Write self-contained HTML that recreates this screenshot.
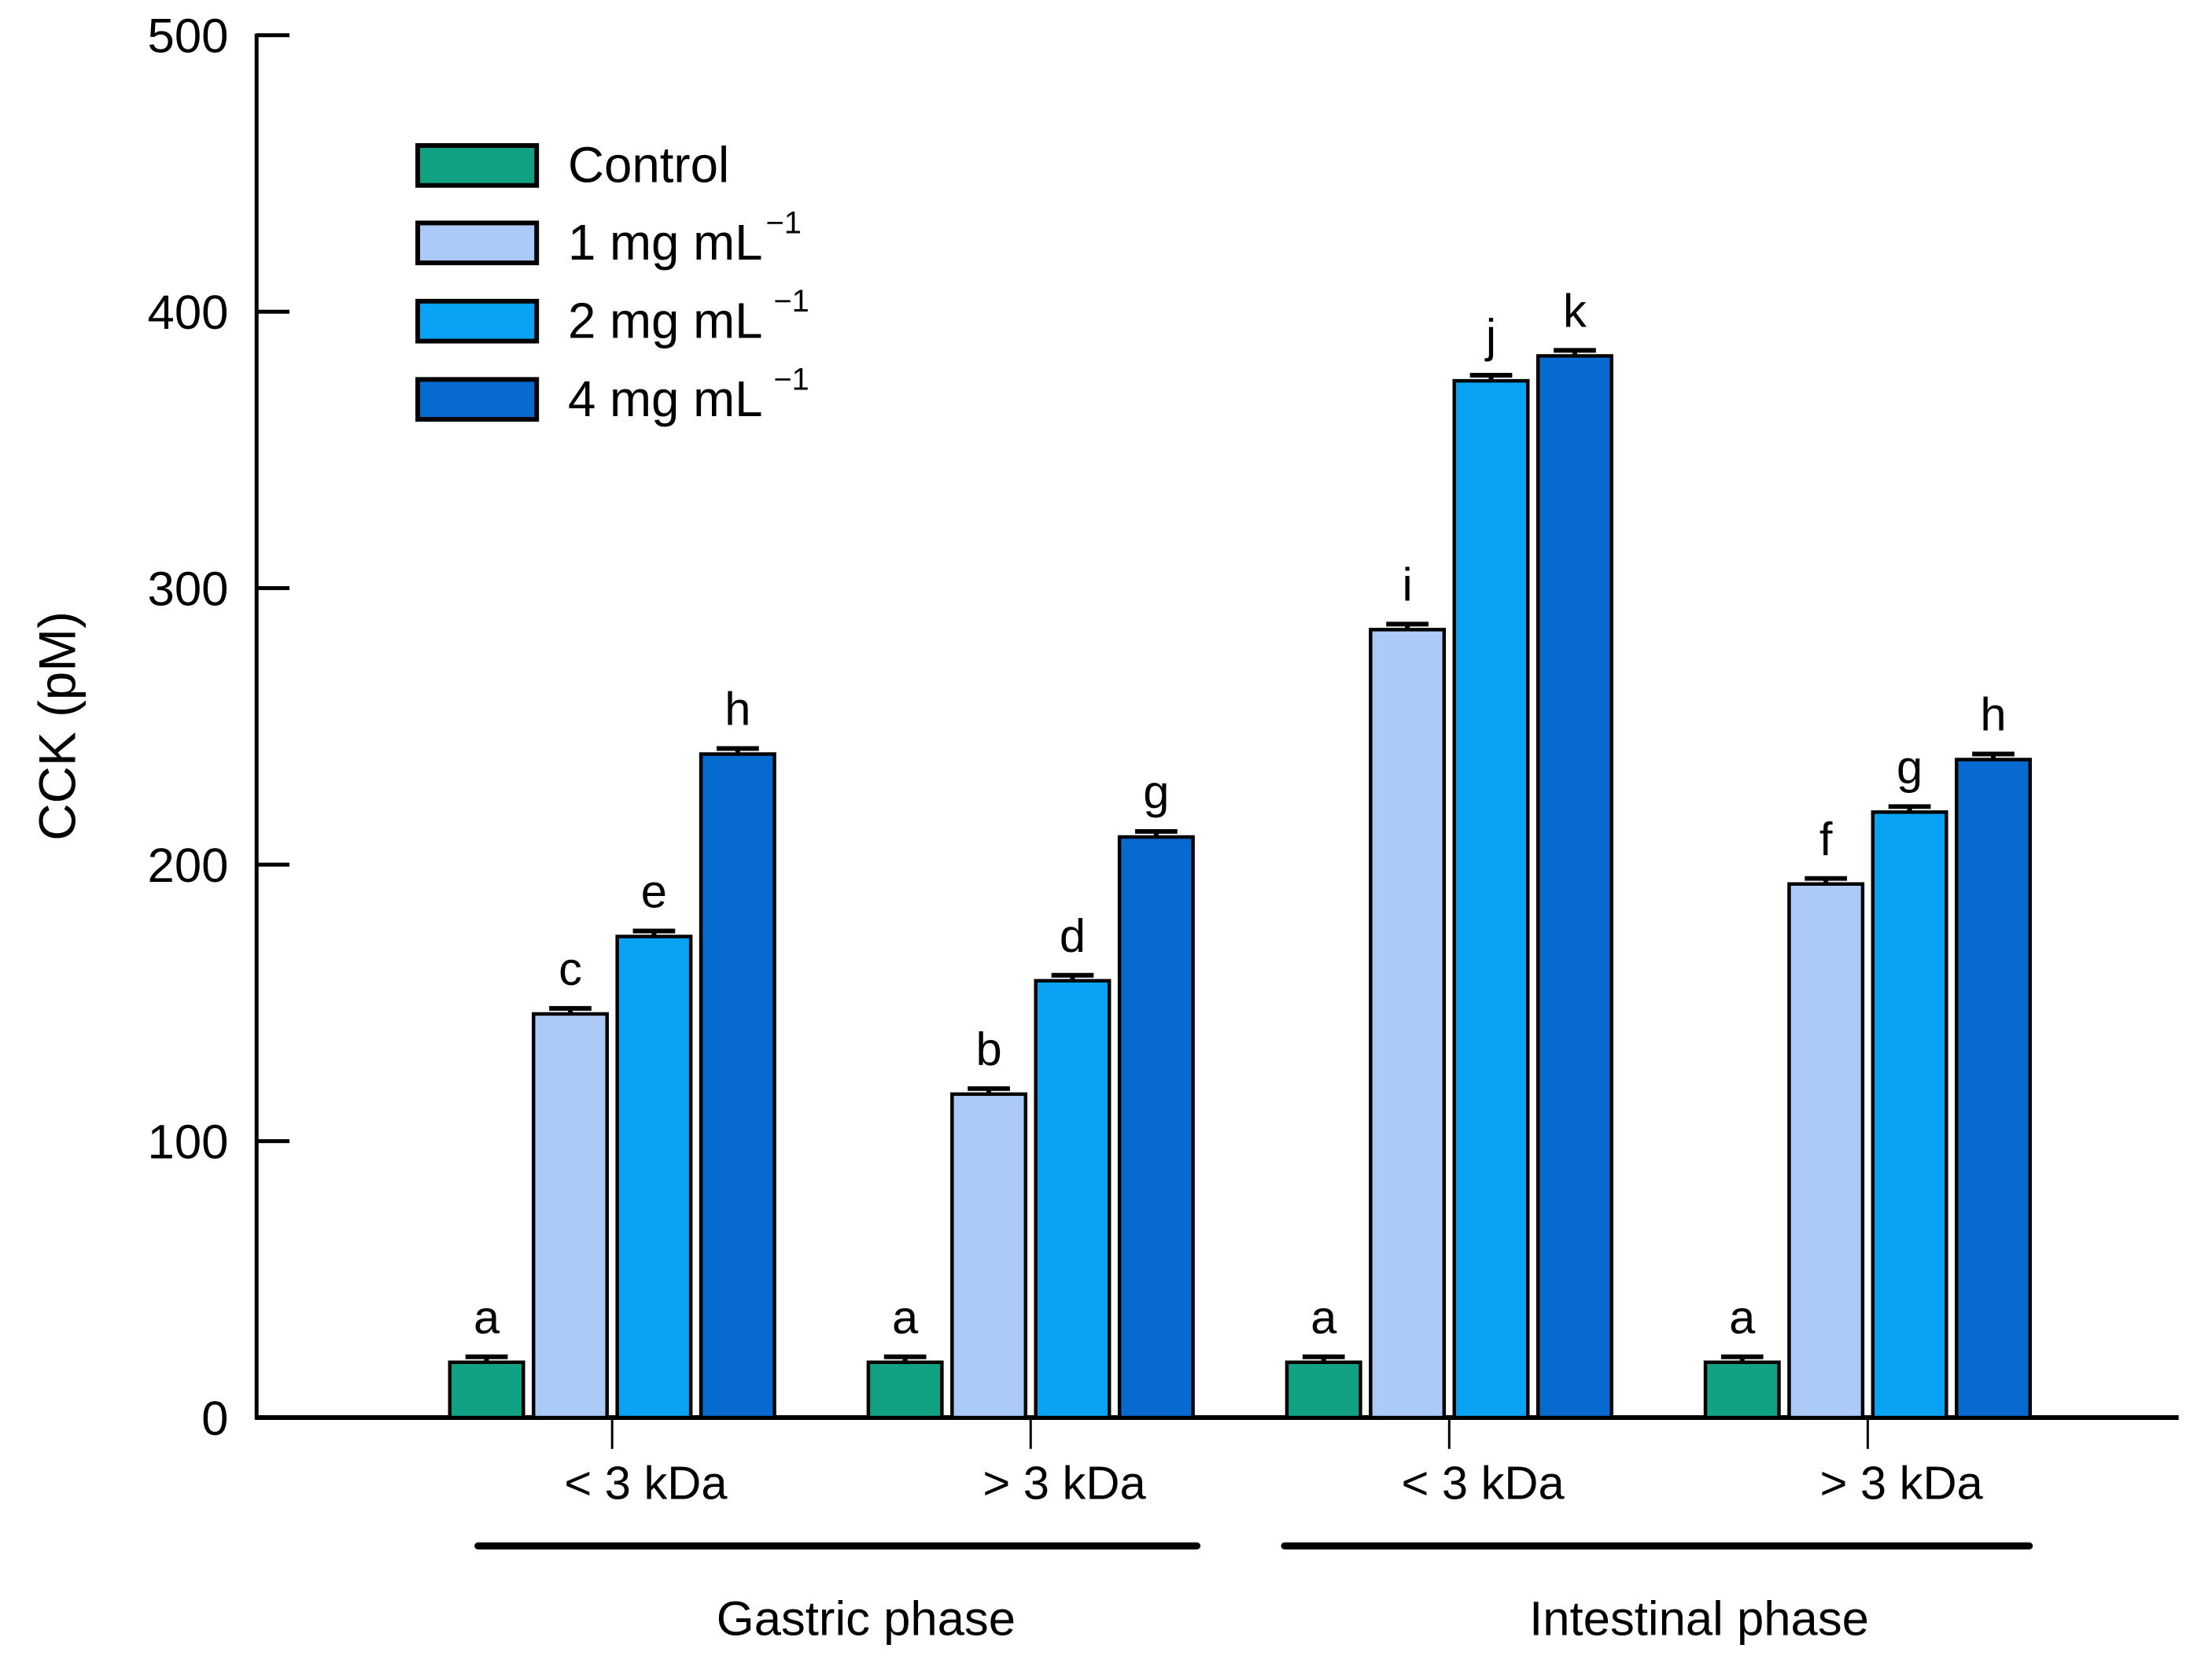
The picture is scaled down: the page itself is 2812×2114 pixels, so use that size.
<!DOCTYPE html>
<html><head><meta charset="utf-8"><style>
html,body{margin:0;padding:0;background:#fff;}
svg{display:block;font-family:"Liberation Sans",Arial,sans-serif;}
</style></head><body>
<svg id="chart" width="2812" height="2114" viewBox="0 0 2812 2114" xmlns="http://www.w3.org/2000/svg">
<g transform="scale(0.9945)">
<g id="axes"></g>
<g id="bars"></g>
<g id="legend"></g>
<text x="0" y="0" transform="translate(96,928) rotate(-90)" text-anchor="middle" font-size="66">CCK (pM)</text>
<line x1="611" y1="1976" x2="1530" y2="1976" stroke="#000" stroke-width="9" stroke-linecap="round"/>
<line x1="1642" y1="1976" x2="2594" y2="1976" stroke="#000" stroke-width="9" stroke-linecap="round"/>
<text x="1107" y="2090" text-anchor="middle" font-size="62">Gastric phase</text>
<text x="2172" y="2090" text-anchor="middle" font-size="62">Intestinal phase</text>
</g>
</svg>
<script>
const categories = ["< 3 kDa", "> 3 kDa", "< 3 kDa", "> 3 kDa"];
const seriesNames = ["Control", "1 mg mL", "2 mg mL", "4 mg mL"];
const controlVals = [20, 20, 20, 20];
const mg1Vals = [146, 117, 285, 193];
const mg2Vals = [174, 158, 375, 219];
const mg4Vals = [240, 210, 384, 238];
const errVals = [2, 2, 2, 2];
const letters = [["a","c","e","h"],["a","b","d","g"],["a","i","j","k"],["a","f","g","h"]];
const yTicks = [0, 100, 200, 300, 400, 500];

const colors = ["#10a282", "#abcaf8", "#0aa2f2", "#066ace"];
const series = [controlVals, mg1Vals, mg2Vals, mg4Vals];
const NS = "http://www.w3.org/2000/svg";
const x0 = 328, y0 = 1812, yTop = 45, xEnd = 2785;
const yScale = v => y0 - (v / 500) * (y0 - yTop);
const groupStart = i => 575 + i * 535;
const barX = (g, s) => groupStart(g) + s * 107;
const barW = 94;

function mk(tag, attrs, parent, text) {
  const el = document.createElementNS(NS, tag);
  for (const k in attrs) el.setAttribute(k, attrs[k]);
  if (text !== undefined) el.textContent = text;
  parent.appendChild(el);
  return el;
}
const axes = document.getElementById('axes');
const bars = document.getElementById('bars');
const legend = document.getElementById('legend');

let l = mk('line', {x1:x0, y1:yTop-2, x2:x0, y2:y0+2, stroke:'#000','stroke-width':5}, axes);


l = mk('line', {x1:x0-2, y1:y0, x2:xEnd, y2:y0, stroke:'#000','stroke-width':6}, axes);



yTicks.forEach(t => {
  const y = yScale(t);
  const tk = mk('line', {x1:x0, y1:y, x2:x0+42, y2:y, stroke:'#000','stroke-width':5}, axes);
  
  
  const tl = mk('text', {x:292, y:y+22, 'text-anchor':'end', 'font-size':62}, axes, String(t));
  
  
});

categories.forEach((c, g) => {
  const tx = barX(g, 2) - 6.5;
  const tk = mk('line', {x1:tx, y1:y0, x2:tx, y2:y0+40, stroke:'#000','stroke-width':3}, axes);
  
  
  const tl = mk('text', {x:tx + 43, y:1916, 'text-anchor':'middle', 'font-size':60}, axes, c);
  
  
});

series.forEach((vals, s) => {
  vals.forEach((v, g) => {
    const x = barX(g, s), yt = yScale(v);
    const r = mk('rect', {x:x, y:yt, width:barW, height:y0-yt, fill:colors[s], stroke:'#000','stroke-width':4.5}, bars);
    
    
    const ye = yScale(v + errVals[g]);
    const e = mk('path', {d:`M${x+barW/2},${yt} V${ye} M${x+barW/2-27},${ye} H${x+barW/2+27}`, stroke:'#000','stroke-width':6, fill:'none'}, bars);
    
    
    const lt = mk('text', {x:x+barW/2, y:ye-30, 'text-anchor':'middle', 'font-size':60}, bars, letters[g][s]);
    
    
  });
});

const legY = [186, 285, 385, 485];
seriesNames.forEach((n, s) => {
  const y = legY[s];
  const sw = mk('rect', {x:534, y:y, width:152, height:51, fill:colors[s], stroke:'#000','stroke-width':6}, legend);
  
  
  const t = mk('text', {x:726, y:y+47, 'font-size':64}, legend, n);
  
  
  if (s > 0) {
    const sup = mk('tspan', {dy:-34, dx: s===1 ? 4 : 14, 'font-size':40}, t, '\u22121');
    
    
  }
});
</script>
</body></html>
